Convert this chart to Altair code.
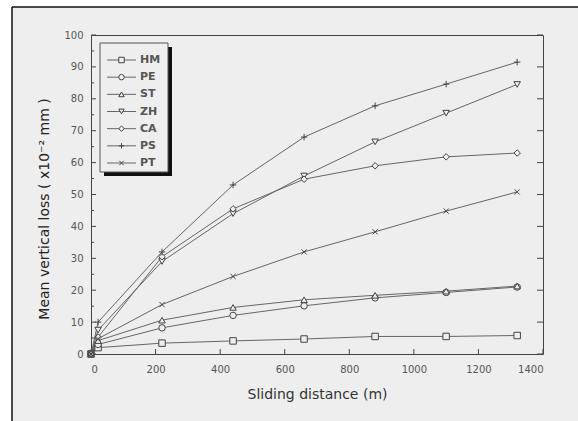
import altair as alt
import pandas as pd

# ---- data ----
distance = [0, 22, 220, 440, 660, 880, 1100, 1320]
series_names = ["HM", "PE", "ST", "ZH", "CA", "PS", "PT"]
HM = [0, 2.0, 3.4, 4.1, 4.7, 5.5, 5.5, 5.8]
PE = [0, 3.0, 8.2, 12.1, 15.1, 17.6, 19.3, 21.0]
ST = [0, 4.2, 10.6, 14.6, 17.0, 18.4, 19.7, 21.3]
ZH = [0, 7.5, 29.0, 44.0, 55.8, 66.5, 75.5, 84.5]
CA = [0, 5.3, 30.5, 45.5, 54.8, 59.0, 61.8, 63.0]
PS = [0, 10.0, 32.0, 53.0, 68.0, 77.8, 84.6, 91.5]
PT = [0, 4.8, 15.5, 24.3, 32.0, 38.3, 44.8, 50.8]
x_ticks = [0, 200, 400, 600, 800, 1000, 1200, 1400]
y_ticks = [0, 10, 20, 30, 40, 50, 60, 70, 80, 90, 100]
y_minor = [5, 15, 25, 35, 45, 55, 65, 75, 85, 95]

values = {"HM": HM, "PE": PE, "ST": ST, "ZH": ZH, "CA": CA, "PS": PS, "PT": PT}
rows = []
for name in series_names:
    for d, v in zip(distance, values[name]):
        rows.append({"dist": d, "loss": v, "series": name})
df = pd.DataFrame(rows)
legend_df = pd.DataFrame({"series": series_names})

BG = "#eeeeee"
FONT = "DejaVu Sans"
W, H = 452, 319

shape_range = [
    "square", "circle", "triangle-up", "triangle-down", "diamond",
    "M-1,0L1,0M0,-1L0,1",
    "M-0.8,-0.8L0.8,0.8M-0.8,0.8L0.8,-0.8",
]
shape_scale = alt.Scale(domain=series_names, range=shape_range)

xscale = alt.Scale(domain=[0, 1400], nice=False)
yscale = alt.Scale(domain=[0, 100], nice=False)

x_axis = alt.Axis(values=x_ticks, format="d", title="Sliding distance (m)", ticks=False,
                  domain=False, grid=False, labelPadding=10, labelFontSize=10,
                  labelColor="#555", labelFont=FONT, titleFont=FONT,
                  titleFontSize=14, titleFontWeight="normal", titleColor="#333",
                  titlePadding=13)
y_axis = alt.Axis(values=y_ticks, format="d", title="Mean vertical loss ( x10⁻² mm )",
                  ticks=False, domain=False, grid=False, labelPadding=8,
                  labelFontSize=10, labelColor="#555", labelFont=FONT,
                  titleFont=FONT, titleFontSize=14, titleFontWeight="normal",
                  titleColor="#222", titlePadding=12, titleY=H / 2 + 14)

base = alt.Chart(df)
lines = base.mark_line(color="#666666", strokeWidth=1).encode(
    x=alt.X("dist:Q", scale=xscale, axis=x_axis),
    y=alt.Y("loss:Q", scale=yscale, axis=y_axis),
    detail="series:N",
)
points = base.mark_point(filled=True, fill=BG, stroke="#444444", strokeWidth=1,
                         size=42, opacity=1).encode(
    x=alt.X("dist:Q", scale=xscale, axis=x_axis),
    y=alt.Y("loss:Q", scale=yscale, axis=y_axis),
    shape=alt.Shape("series:N", scale=shape_scale, legend=None),
)

ymaj = pd.DataFrame({"v": y_ticks})
ymin = pd.DataFrame({"v": y_minor})
xmaj = pd.DataFrame({"v": x_ticks})
tick_color = "#444444"
left_major = alt.Chart(ymaj).mark_rule(color=tick_color).encode(
    y=alt.Y("v:Q", scale=yscale, axis=y_axis), x=alt.value(0), x2=alt.value(5))
left_minor = alt.Chart(ymin).mark_rule(color=tick_color).encode(
    y=alt.Y("v:Q", scale=yscale, axis=y_axis), x=alt.value(0), x2=alt.value(3))
right_major = alt.Chart(ymaj).mark_rule(color=tick_color).encode(
    y=alt.Y("v:Q", scale=yscale, axis=y_axis), x=alt.value(W), x2=alt.value(W - 6))
bottom_major = alt.Chart(xmaj).mark_rule(color=tick_color).encode(
    x=alt.X("v:Q", scale=xscale, axis=x_axis), y=alt.value(H), y2=alt.value(H - 5))

plot = alt.layer(left_major, left_minor, right_major, bottom_major, lines, points)

# ---- outer frame (image border) ----
one = alt.Data(values=[{}])
white_left = alt.Chart(one).mark_rect(color="white").encode(
    x=alt.value(-91), x2=alt.value(-79), y=alt.value(-35), y2=alt.value(H + 67))
white_top = alt.Chart(one).mark_rect(color="white").encode(
    x=alt.value(-91), x2=alt.value(W + 35), y=alt.value(-35), y2=alt.value(-28))
border_left = alt.Chart(one).mark_rule(color="#111111", strokeWidth=1.5).encode(
    x=alt.value(-79), y=alt.value(-28), y2=alt.value(H + 67))
border_top = alt.Chart(one).mark_rule(color="#111111", strokeWidth=1.5).encode(
    x=alt.value(-79), x2=alt.value(W + 35), y=alt.value(-28))
frame = alt.layer(white_left, white_top, border_left, border_top)

# ---- manual legend ----
legend_y = alt.Y("series:N", scale=alt.Scale(type="point", domain=series_names,
                                             range=[25, 128], padding=0), axis=None)
one2 = alt.Data(values=[{}])
shadow = alt.Chart(one2).mark_rect(color="#111111").encode(
    x=alt.value(13), x2=alt.value(81), y=alt.value(12), y2=alt.value(141))
box = alt.Chart(one2).mark_rect(fill=BG, stroke="#555555", strokeWidth=1).encode(
    x=alt.value(9), x2=alt.value(77), y=alt.value(8), y2=alt.value(137))
lbase = alt.Chart(legend_df)
leg_lines = lbase.mark_rule(color="#666666", strokeWidth=1).encode(
    y=legend_y, x=alt.value(16), x2=alt.value(45))
leg_pts = lbase.mark_point(filled=True, fill=BG, stroke="#444444", strokeWidth=1,
                           size=30, opacity=1).encode(
    y=legend_y, x=alt.value(30.5),
    shape=alt.Shape("series:N", scale=shape_scale, legend=None))
leg_text = lbase.mark_text(align="left", baseline="middle", font=FONT, fontSize=11,
                           fontWeight="bold", color="#555555").encode(
    y=legend_y, x=alt.value(49), text="series:N")
legend = alt.layer(shadow, box, leg_lines, leg_pts, leg_text)

chart = alt.layer(frame, plot, legend).resolve_scale(y="independent").properties(
    width=W, height=H,
    padding={"left": 91, "top": 35, "right": 35, "bottom": 67},
    autosize=alt.AutoSizeParams(type="none"),
    background=BG,
).configure_view(stroke="#444444", strokeWidth=1)

chart.save("out.html", embed_options={"renderer": "svg", "actions": False})
